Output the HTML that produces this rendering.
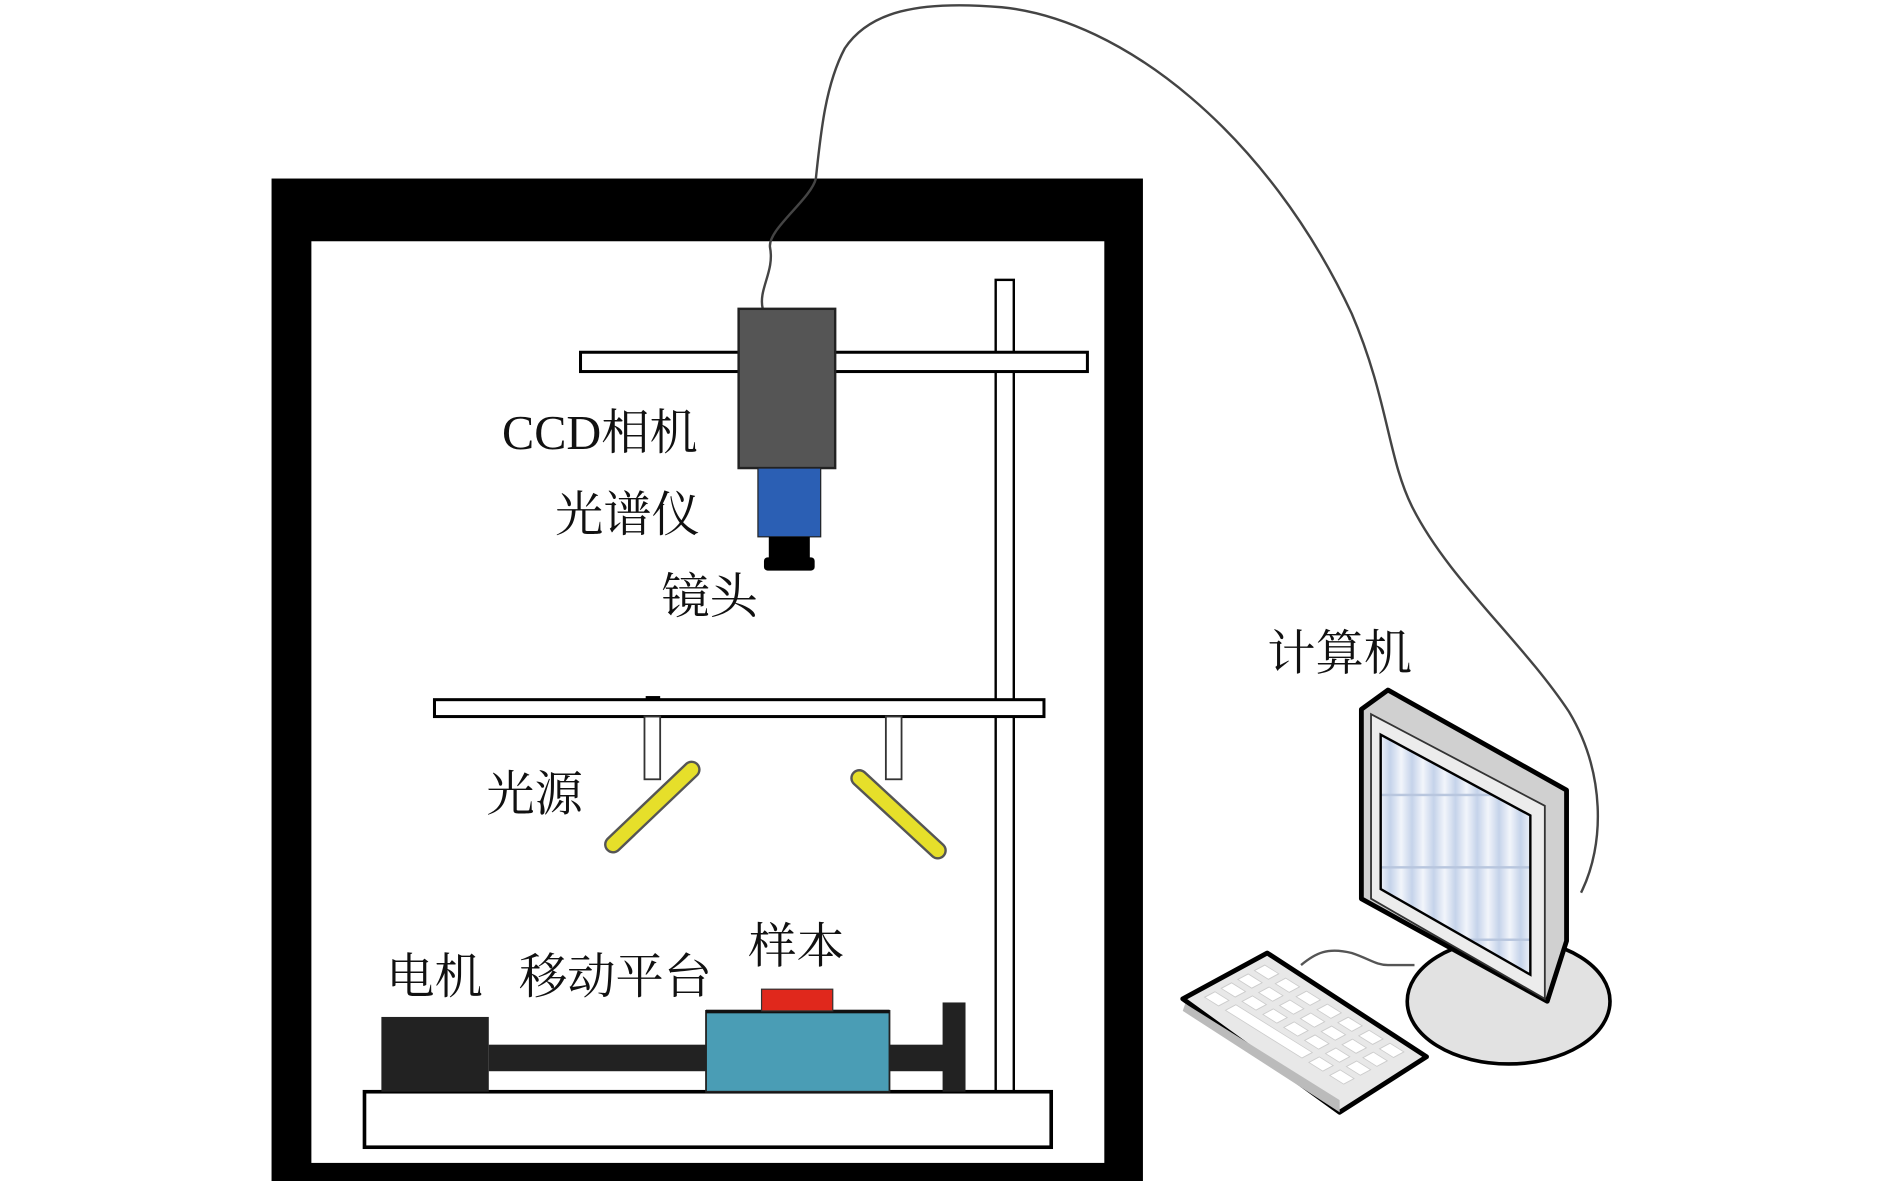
<!DOCTYPE html>
<html><head><meta charset="utf-8"><style>
html,body{margin:0;padding:0;background:#fff;}
svg{display:block;}
text{font-family:"Liberation Serif","Noto Serif CJK SC","Noto Sans CJK SC",serif;fill:#111;font-size:40px;}
</style></head><body>
<svg width="1890" height="1181" viewBox="0 0 1566 979" preserveAspectRatio="none" xmlns="http://www.w3.org/2000/svg">
<rect width="1566" height="979" fill="#fff"/>
<!-- frame -->
<rect x="225" y="148" width="722" height="831" fill="#000"/>
<rect x="258" y="200" width="657" height="764" fill="#fff"/>
<!-- cable -->
<path d="M632,256 C628,240 642,225 638,205 C636,190 672,165 676,148 C680,110 684,70 700,40 C720,10 760,0 830,6 C930,16 1050,110 1120,260 C1150,330 1150,380 1170,420 C1200,480 1260,530 1300,590 C1330,640 1330,700 1310,740" fill="none" stroke="#444" stroke-width="2"/>
<!-- vertical pole -->
<rect x="825" y="232" width="15" height="673" fill="#fff" stroke="#000" stroke-width="2"/>
<!-- top bar -->
<rect x="481" y="292" width="420" height="16" fill="#fff" stroke="#000" stroke-width="2.5"/>
<!-- camera -->
<rect x="612" y="256" width="80" height="132" fill="#555" stroke="#222" stroke-width="2"/>
<rect x="628" y="388" width="52" height="57" fill="#2b5fb4" stroke="#222" stroke-width="1"/>
<rect x="637" y="445" width="34" height="20" fill="#000"/>
<rect x="633" y="462" width="42" height="11" rx="3" fill="#000"/>
<!-- middle bar -->
<rect x="360" y="580" width="505" height="14" fill="#fff" stroke="#000" stroke-width="2.5"/>
<rect x="535" y="577" width="12" height="4" fill="#000"/>
<!-- hangers -->
<rect x="534" y="594" width="13" height="52" fill="#fff" stroke="#333" stroke-width="1.5"/>
<rect x="734" y="594" width="13" height="52" fill="#fff" stroke="#333" stroke-width="1.5"/>
<!-- lights -->
<line x1="508" y1="700" x2="573" y2="638" stroke="#555" stroke-width="15" stroke-linecap="round"/>
<line x1="508" y1="700" x2="573" y2="638" stroke="#e6df2a" stroke-width="11" stroke-linecap="round"/>
<line x1="712" y1="645" x2="777" y2="705" stroke="#555" stroke-width="15" stroke-linecap="round"/>
<line x1="712" y1="645" x2="777" y2="705" stroke="#e6df2a" stroke-width="11" stroke-linecap="round"/>
<!-- base -->
<rect x="302" y="905" width="569" height="46" fill="#fff" stroke="#000" stroke-width="3"/>
<rect x="316" y="843" width="89" height="62" fill="#222"/>
<rect x="405" y="866" width="380" height="22" fill="#222"/>
<rect x="781" y="831" width="19" height="74" fill="#222"/>
<rect x="585" y="838" width="152" height="67" fill="#4a9db5" stroke="#222" stroke-width="1.5"/>
<rect x="585" y="837" width="152" height="3" fill="#111"/>
<rect x="631" y="820" width="59" height="18" fill="#e0281c" stroke="#333" stroke-width="1"/>
<!-- computer stand -->
<ellipse cx="1250" cy="830" rx="84" ry="52" fill="#e2e2e2" stroke="#000" stroke-width="3"/>
<!-- keyboard cable -->
<path d="M1078,800 C1090,790 1100,785 1120,790 C1135,795 1140,800 1150,800 L1172,800" fill="none" stroke="#555" stroke-width="2"/>
<!-- monitor -->
<polygon points="1128,588 1150,572 1298,655 1298,705 1298,780 1282,830 1128,745" fill="#d0d0d0" stroke="#000" stroke-width="4" stroke-linejoin="round"/>
<polygon points="1136,592 1280,668 1280,828 1136,745" fill="#ececec" stroke="#333" stroke-width="1.5"/>
<defs><linearGradient id="sc" x1="0" x2="1" y1="0" y2="0" spreadMethod="repeat"><stop offset="0" stop-color="#c5d3ea"/><stop offset="0.5" stop-color="#f2f5fb"/><stop offset="1" stop-color="#c5d3ea"/></linearGradient>
<pattern id="scp" width="18" height="60" patternUnits="userSpaceOnUse"><rect width="18" height="60" fill="url(#sc)"/><rect y="58" width="18" height="2" fill="#b8c6de"/></pattern></defs>
<polygon points="1144,609 1268,676 1268,808 1144,737" fill="url(#scp)" stroke="#000" stroke-width="2"/>
<!-- keyboard -->
<polygon points="980,828 1050,790 1182,876 1110,922" fill="#e8e8e8" stroke="#000" stroke-width="4" stroke-linejoin="round"/>
<polygon points="982,832 1110,912 1110,922 980,838" fill="#bbb"/>
<g fill="#fff" stroke="#ccc" stroke-width="0.8">
<g transform="matrix(0.96,0.6,-0.86,0.46,1048,800)">
<rect x="0" y="0" width="12" height="10"/><rect x="18" y="0" width="12" height="10"/><rect x="36" y="0" width="12" height="10"/><rect x="54" y="0" width="12" height="10"/><rect x="72" y="0" width="12" height="10"/><rect x="90" y="0" width="12" height="10"/><rect x="108" y="0" width="12" height="10"/>
<rect x="0" y="16" width="12" height="10"/><rect x="18" y="16" width="12" height="10"/><rect x="36" y="16" width="12" height="10"/><rect x="54" y="16" width="12" height="10"/><rect x="72" y="16" width="12" height="10"/><rect x="90" y="16" width="12" height="10"/><rect x="108" y="16" width="12" height="10"/>
<rect x="0" y="32" width="12" height="10"/><rect x="18" y="32" width="12" height="10"/><rect x="36" y="32" width="12" height="10"/><rect x="54" y="32" width="12" height="10"/><rect x="72" y="32" width="12" height="10"/><rect x="90" y="32" width="12" height="10"/><rect x="108" y="32" width="12" height="10"/>
<rect x="0" y="48" width="12" height="10"/><rect x="18" y="48" width="66" height="10"/><rect x="90" y="48" width="12" height="10"/><rect x="108" y="48" width="12" height="10"/>
</g></g>
<!-- labels -->
<text x="416" y="372">CCD相机</text>
<text x="460" y="440">光谱仪</text>
<text x="548" y="508">镜头</text>
<text x="403" y="672">光源</text>
<text x="320" y="823">电机</text>
<text x="430" y="823">移动平台</text>
<text x="620" y="798">样本</text>
<text x="1050" y="555">计算机</text>
</svg>
</body></html>
